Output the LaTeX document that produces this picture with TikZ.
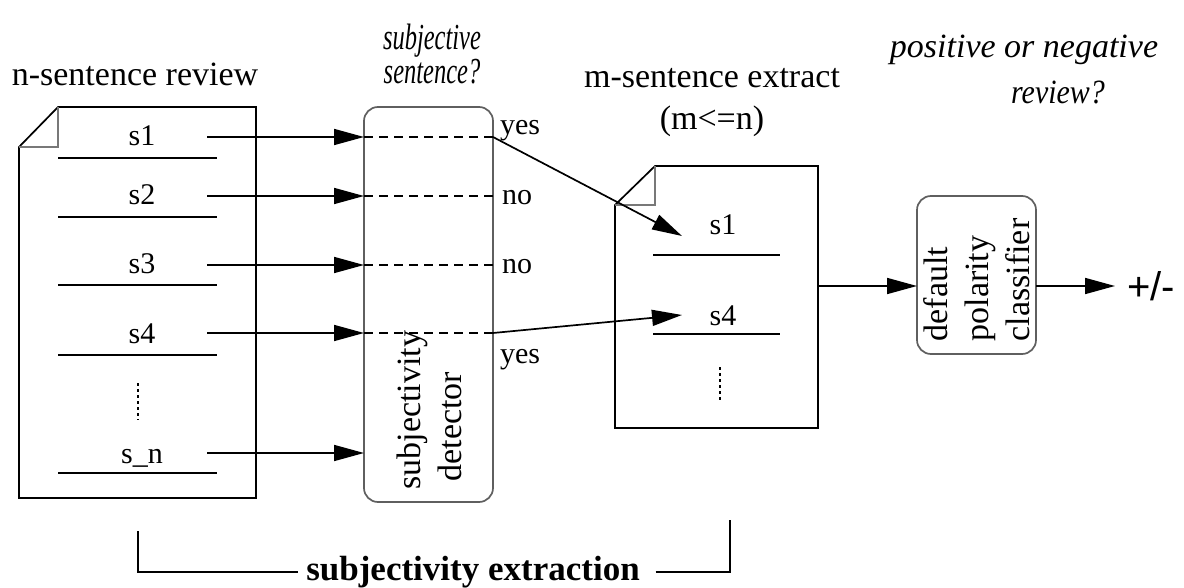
\documentclass[tikz,border=0pt]{standalone}
\usepackage{fontspec}
\usepackage{graphicx}
\setmainfont{Liberation Serif}
\newfontfamily\signfont{Liberation Sans}
\usetikzlibrary{arrows.meta}

\definecolor{boxgray}{RGB}{95,95,95}
\definecolor{foldgray}{RGB}{120,120,120}

\tikzset{
  every node/.style={inner sep=0pt, outer sep=0pt},
  heading/.style={font=\fontsize{34}{40}\selectfont},
  sent/.style={font=\fontsize{30}{34}\selectfont, anchor=base},
  answer/.style={font=\fontsize{30}{34}\selectfont, anchor=base west},
  vtext/.style={font=\fontsize{34}{41}\selectfont, rotate=90, align=left},
  flow/.style={line width=1.7pt, -{Triangle[length=30pt,width=16pt]}},
  rule/.style={line width=1.7pt},
  page/.style={line width=1.7pt, line join=miter},
  fold/.style={line width=1.4pt, foldgray},
  dashline/.style={line width=1.7pt, dash pattern=on 9pt off 6pt},
  dots/.style={line width=1.4pt, dash pattern=on 3pt off 3pt},
  procbox/.style={draw=boxgray, line width=1.7pt, rounded corners=14pt}
}

\begin{document}
\begin{tikzpicture}[x=1pt,y=-1pt]
\useasboundingbox (0,0) rectangle (1184,588);

% ---- headings ----
\node[heading, anchor=base] (h1) at (135,86) {n-sentence review};
\node[heading, anchor=base] (h2a) at (432,50) {\scalebox{0.72}[1.08]{\itshape subjective}};
\node[heading, anchor=base] (h2b) at (432,84) {\scalebox{0.72}[1.08]{\itshape sentence?}};
\node[heading, anchor=base] (h3a) at (712,88) {m-sentence extract};
\node[heading, anchor=base] (h3b) at (712,130) {(m<=n)};
\node[heading, anchor=base] (h4a) at (1024,58) {\itshape positive or negative};
\node[heading, anchor=base] (h4b) at (1058,104) {\scalebox{0.88}[1]{\itshape review?}};

% ---- n-sentence review document ----
\draw[page] (58,107) -- (256,107) -- (256,498) -- (19,498) -- (19,147) -- cycle;
\draw[fold] (58,107) -- (58,147) -- (19,147);

\node[sent] (s1) at (142,146) {s1};
\node[sent] (s2) at (142,205) {s2};
\node[sent] (s3) at (142,274) {s3};
\node[sent] (s4) at (142,343) {s4};
\node[sent] (sn) at (142,463) {s\_n};
\foreach \y in {158,217,285,355,473} \draw[rule] (58,\y) -- (217,\y);
\draw[dots] (138,383) -- (138,420);

% ---- subjectivity detector ----
\node[procbox, minimum width=129pt, minimum height=395pt] (det) at (428.5,304.5) {};
\node[vtext] (detlbl) at (429,410) {subjectivity\\\hspace*{8pt}detector};

\coordinate (a1) at (207,137);
\coordinate (a2) at (207,196);
\coordinate (a3) at (207,265);
\coordinate (a4) at (207,333);
\coordinate (a5) at (207,453);
\foreach \a in {a1,a2,a3,a4,a5} \draw[flow] (\a) -- (\a -| det.west);
\foreach \a in {a1,a2,a3,a4} \draw[dashline] (\a -| det.west) -- (\a -| det.east);

\node[answer] (ans1) at (500,135) {yes};
\node[answer] (ans2) at (502,205) {no};
\node[answer] (ans3) at (502,273) {no};
\node[answer] (ans4) at (500,363) {yes};

% ---- m-sentence extract document ----
\draw[page] (655,166) -- (818,166) -- (818,428) -- (615,428) -- (615,205) -- cycle;
\draw[fold] (655,166) -- (655,205) -- (615,205);
\node[sent] (e1) at (723,235) {s1};
\node[sent] (e4) at (723,325) {s4};
\foreach \y in {255,334} \draw[rule] (653,\y) -- (780,\y);
\draw[dots] (720,367) -- (720,400);

\coordinate (t1) at (682,236);
\coordinate (t4) at (682,315);
\draw[flow] (a1 -| det.east) -- (t1);
\draw[flow] (a4 -| det.east) -- (t4);

% ---- polarity classifier ----
\node[procbox, minimum width=119pt, minimum height=158pt] (cls) at (976.5,275) {};
\node[vtext] (clslbl) at (977,280) {default\\polarity\\classifier};
\coordinate (xout) at (818,286);
\draw[flow] (xout) -- (xout -| cls.west);
\node[anchor=west, font=\signfont\fontsize{40}{44}\selectfont] (res) at (1127,286) {+/-};
\draw[flow] (xout -| cls.east) -- ([xshift=-12pt]res.west);

% ---- bracket ----
\node[font=\fontsize{35}{40}\selectfont\bfseries, anchor=base] (ext) at (473,580) {subjectivity extraction};
\coordinate (bl) at (138,531);
\coordinate (br) at (730,520);
\draw[rule] (bl) -- (138,572) -- ([xshift=-8pt]ext.west |- 0,572);
\draw[rule] ([xshift=16pt]ext.east |- 0,572) -- (730,572) -- (br);
\end{tikzpicture}
\end{document}
